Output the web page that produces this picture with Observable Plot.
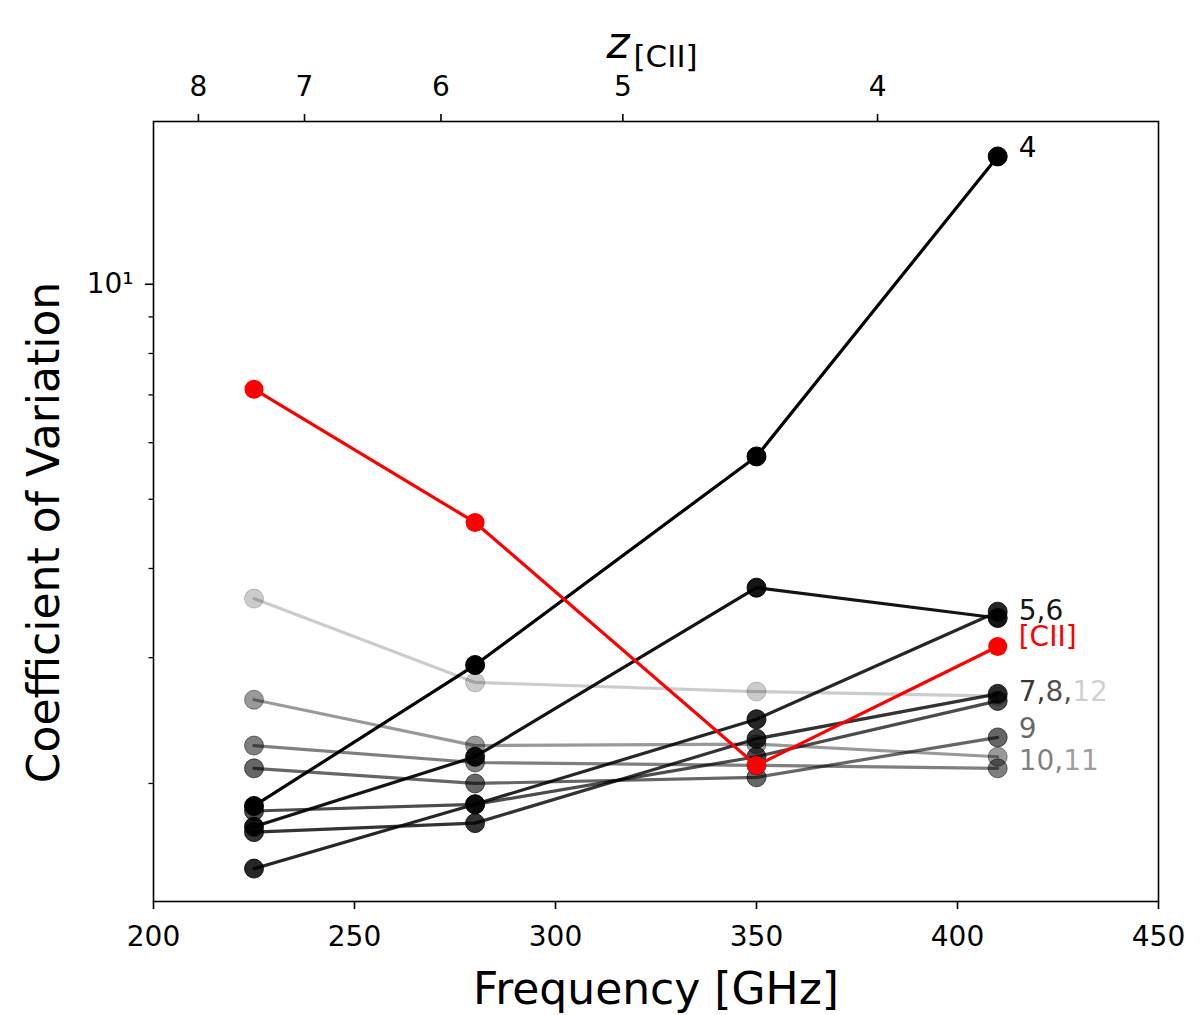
<!DOCTYPE html>
<html>
<head>
<meta charset="utf-8">
<script src="https://cdn.jsdelivr.net/npm/d3@7"></script>
<script src="https://cdn.jsdelivr.net/npm/@observablehq/plot@0.6"></script>
<style>
  body { margin: 0; background: #fff; }
</style>
</head>
<body>
<div id="graph"></div>
<script>
// observed frequencies of the four bands (GHz)
const freqs = [225, 280, 350, 410];

// CO transitions (upper J) and their gray level (alpha on black)
const transitions = [4, 5, 6, 7, 8, 9, 10, 11, 12];
const alphas = [1, 0.92, 0.85, 0.8, 0.7, 0.6, 0.5, 0.4, 0.2];

// coefficient of variation per transition, read at 225/280/350/410 GHz
const cv4  = [1.86, 2.93, 5.74, 15.1];
const cv5  = [1.74, 2.18, 3.76, 3.41];
const cv6  = [1.52, 1.87, 2.46, 3.48];
const cv7  = [1.71, 1.76, 2.31, 2.67];
const cv8  = [1.83, 1.87, 2.18, 2.61];
const cv9  = [2.10, 2.00, 2.04, 2.32];
const cv10 = [2.26, 2.14, 2.12, 2.10];
const cv11 = [2.62, 2.26, 2.27, 2.18];
const cv12 = [3.63, 2.77, 2.69, 2.65];
const cvCII = [7.13, 4.64, 2.12, 3.11];

// top axis: [CII] redshift
const restCII = 1900.537;
const zTicks = [8, 7, 6, 5, 4];

// y ticks (log)
const yMajorTicks = [10];
const yMinorTicks = [2, 3, 4, 5, 6, 7, 8, 9];

// end-of-line labels
const labelParts  = [["4"], ["5,6"], ["[CII]"], ["7,", "8,", "12"], ["9"], ["10,", "11"]];
const labelSeries = [[4], [5], ["CII"], [7, 8, 12], [9], [10, 11]];
const labelCV     = [15.49, 3.49, 3.21, 2.682, 2.383, 2.150];

const cvSeries = [cv4, cv5, cv6, cv7, cv8, cv9, cv10, cv11, cv12];
const rowsOf = vals => freqs.map((f, k) => ({freq: f, cv: vals[k]}));

const ctx = document.createElement("canvas").getContext("2d");
ctx.font = "28px 'DejaVu Sans'";
const labelPieces = labelParts.flatMap((parts, i) => {
  let off = 0;
  return parts.map((t, k) => {
    const p = {text: t, cv: labelCV[i], off, series: labelSeries[i][k]};
    off += ctx.measureText(t).width;
    return p;
  });
});

const marks = [];

cvSeries.forEach((vals, i) => {
  const rows = rowsOf(vals);
  marks.push(
    Plot.line(rows, {x: "freq", y: "cv", stroke: "black", strokeOpacity: alphas[i], strokeWidth: 3.2}),
    Plot.dot(rows, {x: "freq", y: "cv", r: 9.5, fill: "black", fillOpacity: alphas[i], stroke: "black", strokeOpacity: alphas[i], strokeWidth: 1})
  );
});

const rowsCII = rowsOf(cvCII);
marks.push(
  Plot.line(rowsCII, {x: "freq", y: "cv", stroke: "red", strokeWidth: 3.2}),
  Plot.dot(rowsCII, {x: "freq", y: "cv", r: 9.5, fill: "red"})
);

labelPieces.forEach(p => {
  const isCII = p.series === "CII";
  marks.push(
    Plot.text([p], {
      x: () => freqs[freqs.length - 1],
      y: "cv",
      text: "text",
      dx: 21 + p.off,
      textAnchor: "start",
      lineAnchor: "middle",
      fontSize: 28,
      fill: isCII ? "red" : "black",
      fillOpacity: isCII ? 1 : alphas[transitions.indexOf(p.series)]
    })
  );
});

marks.push(
  Plot.frame({stroke: "black", strokeWidth: 1.6}),
  Plot.axisX({anchor: "bottom", ticks: [200, 250, 300, 350, 400, 450], tickSize: 8, tickPadding: 17,
    fontSize: 28, strokeWidth: 1.6, label: null}),
  Plot.axisX({anchor: "top", ticks: zTicks.map(z => restCII / (1 + z)),
    tickFormat: f => String(Math.round(restCII / f - 1)),
    tickSize: 8, tickPadding: 18, fontSize: 28, strokeWidth: 1.6, label: null}),
  Plot.axisY({ticks: yMajorTicks, tickFormat: () => "10\u00b9", tickSize: 8, tickPadding: 12,
    fontSize: 28, strokeWidth: 1.6, label: null}),
  Plot.axisY({ticks: yMinorTicks, tickFormat: () => "", tickSize: 4.5, strokeWidth: 1.3, label: null}),
  Plot.text(["Frequency [GHz]"], {frameAnchor: "bottom", lineAnchor: "bottom", dy: 102, fontSize: 44}),
  Plot.text(["Coefficient of Variation"], {frameAnchor: "left", textAnchor: "middle", lineAnchor: "bottom",
    rotate: -90, dx: -95, dy: 21, fontSize: 44}),
  Plot.text(["z"], {frameAnchor: "top", textAnchor: "start", lineAnchor: "bottom",
    dx: -49.5, dy: -64, fontSize: 44, fontStyle: "italic"}),
  Plot.text(["[CII]"], {frameAnchor: "top", textAnchor: "start", lineAnchor: "bottom",
    dx: -22.5, dy: -55, fontSize: 31})
);

const plot = Plot.plot({
  width: 1200,
  height: 1015,
  marginTop: 121,
  marginRight: 42,
  marginBottom: 114,
  marginLeft: 153,
  style: {fontFamily: "DejaVu Sans", background: "white", color: "black"},
  x: {domain: [200, 450], label: null},
  y: {type: "log", domain: [1.367, 16.9], label: null},
  marks
});

d3.select("#graph").append(() => plot);
</script>
</body>
</html>
